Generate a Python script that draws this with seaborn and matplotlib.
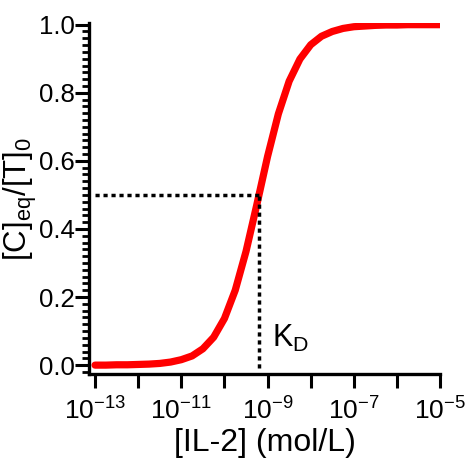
import numpy as np
import matplotlib
matplotlib.use("Agg")
import matplotlib.pyplot as plt
from matplotlib.ticker import MultipleLocator, FixedLocator, NullLocator
import seaborn as sns

# log10 of [IL-2] (mol/L)
log_conc = [-13.0, -12.75, -12.5, -12.25, -12.0, -11.75, -11.5, -11.25,
            -11.0, -10.75, -10.5, -10.25, -10.0, -9.75, -9.5, -9.25,
            -9.0, -8.75, -8.5, -8.25, -8.0, -7.75, -7.5, -7.25,
            -7.0, -6.75, -6.5, -6.25, -6.0, -5.75, -5.5, -5.25, -5.0]
# fraction bound [C]eq/[T]0
frac_bound = [0.000, 0.000, 0.001, 0.001, 0.002, 0.003, 0.005, 0.009,
              0.016, 0.027, 0.048, 0.082, 0.137, 0.220, 0.334, 0.471,
              0.613, 0.738, 0.834, 0.899, 0.941, 0.966, 0.980, 0.989,
              0.994, 0.996, 0.998, 0.999, 0.999, 1.000, 1.000, 1.000, 1.000]

kd_log = -9.2
half = 0.5
x_major = [-13, -12, -11, -10, -9, -8, -7, -6, -5]
x_labeled = [-13, -11, -9, -7, -5]
y_major = [0.0, 0.2, 0.4, 0.6, 0.8, 1.0]

conc = 10.0 ** np.array(log_conc)
kd = 10.0 ** kd_log

sns.set_style("ticks")
plt.rcParams['font.family'] = ['Liberation Sans', 'DejaVu Sans']
plt.rcParams['mathtext.fontset'] = 'custom'
plt.rcParams['mathtext.rm'] = 'Liberation Sans'
plt.rcParams['mathtext.it'] = 'Liberation Sans'
plt.rcParams['text.color'] = 'black'
plt.rcParams['axes.labelcolor'] = 'black'

fig = plt.figure(figsize=(4.70, 4.68), dpi=100)
ax = fig.add_axes([0.1894, 0.2009, 0.747, 0.750])

sns.lineplot(x=conc, y=frac_bound, color='#ff0000', linewidth=5.2, ax=ax)

# dotted guide lines at half saturation
dots = (0, (1.2, 1.1))
ax.plot([conc[0], kd], [half, half], color='black', linewidth=2.5, linestyle=dots)
ax.plot([kd, kd], [-0.008, half], color='black', linewidth=2.5, linestyle=dots)
ax.text(10 ** -8.89, 0.053, r'K$_\mathregular{D}$', fontsize=22, va='baseline', ha='left')

ax.set_xscale('log')
ax.set_xlim(10 ** -13.14, 10 ** -5)
ax.set_ylim(-0.026, 1.005)

ax.xaxis.set_major_locator(FixedLocator([10.0 ** e for e in x_major]))
ax.xaxis.set_minor_locator(NullLocator())
ax.set_xticklabels([r'10$^{\mathregular{%d}}$' % e if e in x_labeled else '' for e in x_major],
                   fontsize=19)
ax.set_yticks(y_major)
ax.set_yticklabels(['%.1f' % v for v in y_major], fontsize=18.5)
ax.yaxis.set_minor_locator(MultipleLocator(0.02))

ax.tick_params(axis='both', which='major', length=10, width=2.2, color='black',
               labelcolor='black')
ax.tick_params(axis='y', which='major', pad=0.5)
ax.tick_params(axis='x', which='major', pad=7)
ax.tick_params(axis='y', which='minor', length=5, width=2.0, color='black')

for side in ['left', 'bottom']:
    ax.spines[side].set_linewidth(2.4)
    ax.spines[side].set_color('black')
sns.despine(ax=ax)

ax.set_xlabel('[IL-2] (mol/L)', fontsize=23, labelpad=2)
ax.set_ylabel(r'[C]$_\mathregular{eq}$/[T]$_\mathregular{0}$', fontsize=22.5)
ax.yaxis.set_label_coords(-0.142, 0.5)

fig.savefig('out.png', dpi=100)
